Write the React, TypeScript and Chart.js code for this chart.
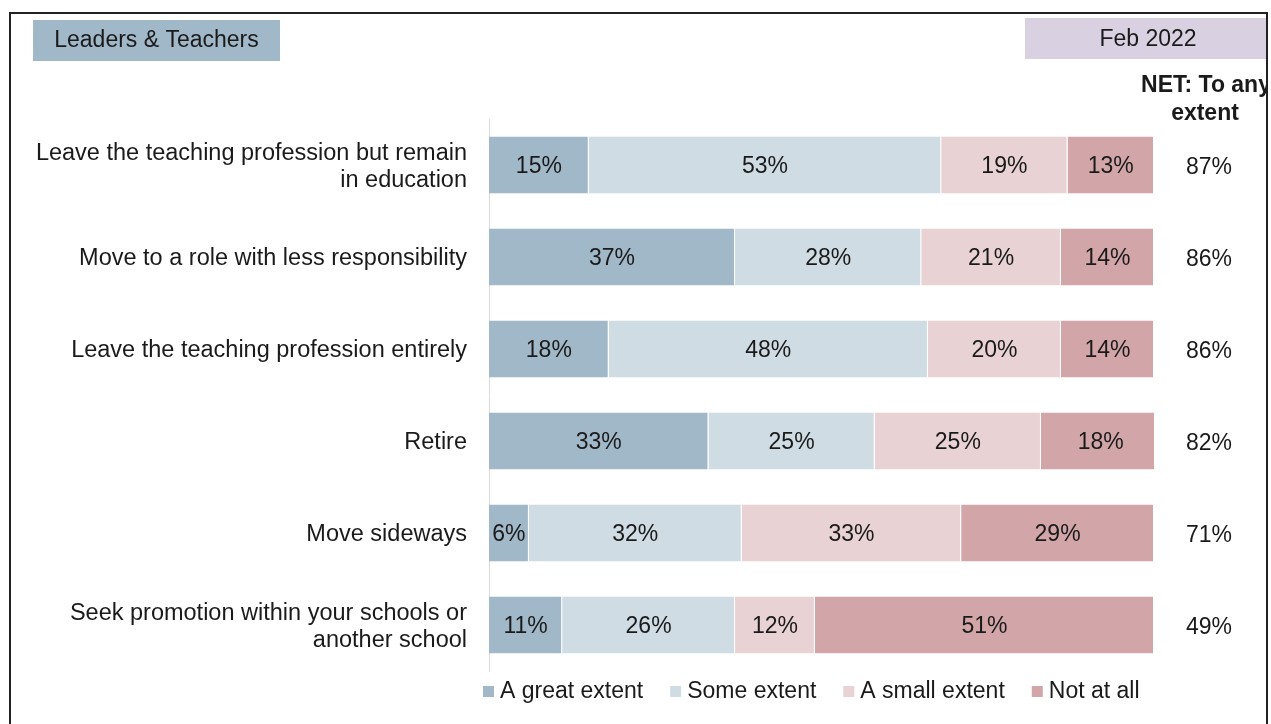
import React, { useEffect, useRef } from "react";
import { Chart, registerables } from "chart.js";

Chart.register(...registerables);

const categories: (string | string[])[] = [
  ["Leave the teaching profession but remain", "in education"],
  "Move to a role with less responsibility",
  "Leave the teaching profession entirely",
  "Retire",
  "Move sideways",
  ["Seek promotion within your schools or", "another school"],
];

const seriesNames = ["A great extent", "Some extent", "A small extent", "Not at all"];
const greatExtent = [15, 37, 18, 33, 6, 11];
const someExtent = [53, 28, 48, 25, 32, 26];
const smallExtent = [19, 21, 20, 25, 33, 12];
const notAtAll = [13, 14, 14, 18, 29, 51];
const netAnyExtent = [87, 86, 86, 82, 71, 49];

const seriesColors = ["#A1B8C8", "#CFDCE4", "#E8D2D4", "#D2A6A8"];

const headerLeft = "Leaders & Teachers";
const headerRight = "Feb 2022";
const netTitle = ["NET: To any", "extent"];

const FONT = "'Liberation Sans', Arial, sans-serif";
const TEXT = "#1a1a1a";

export default function App() {
  const ref = useRef<HTMLCanvasElement | null>(null);

  useEffect(() => {
    const canvas = ref.current;
    if (!canvas) return;

    const decor = {
      id: "decor",
      afterDatasetsDraw(chart: any) {
        const ctx = chart.ctx as CanvasRenderingContext2D;
        ctx.save();
        // segment labels
        ctx.font = `23px ${FONT}`;
        ctx.fillStyle = TEXT;
        ctx.textAlign = "center";
        ctx.textBaseline = "middle";
        chart.data.datasets.forEach((ds: any, di: number) => {
          const meta = chart.getDatasetMeta(di);
          meta.data.forEach((el: any, i: number) => {
            const v = ds.data[i] as number;
            const cx = (el.x + el.base) / 2;
            ctx.fillText(`${Math.round(v)}%`, cx, el.y + 1.5);
          });
        });
        // NET values
        const meta0 = chart.getDatasetMeta(0);
        const netX = chart.chartArea.right + 55;
        meta0.data.forEach((el: any, i: number) => {
          ctx.fillText(`${netAnyExtent[i]}%`, netX, el.y + 3);
        });
        ctx.restore();
      },
      afterDraw(chart: any) {
        const ctx = chart.ctx as CanvasRenderingContext2D;
        const W = chart.width;
        const frameR = W - 4;
        ctx.save();
        ctx.beginPath();
        ctx.rect(0, 0, frameR, chart.height);
        ctx.clip();
        // header boxes
        ctx.fillStyle = "#A1B8C8";
        ctx.fillRect(33, 20, 247, 41);
        ctx.fillStyle = "#D9D1E1";
        ctx.fillRect(1025, 18, frameR - 1025, 41);
        ctx.fillStyle = TEXT;
        ctx.font = `23px ${FONT}`;
        ctx.textAlign = "center";
        ctx.textBaseline = "middle";
        ctx.fillText(headerLeft, 156.5, 41);
        ctx.fillText(headerRight, 1148, 39.5);
        // NET title
        ctx.font = `bold 23px ${FONT}`;
        ctx.fillText(netTitle[0], 1206, 85.5);
        ctx.fillText(netTitle[1], 1205, 113.5);
        // legend
        ctx.font = `23px ${FONT}`;
        ctx.textAlign = "left";
        let x = 483;
        const ly = 692;
        seriesNames.forEach((name, i) => {
          ctx.fillStyle = seriesColors[i];
          ctx.fillRect(x, ly - 6, 11, 11);
          ctx.fillStyle = TEXT;
          ctx.fillText(name, x + 17, ly);
          x += 17 + ctx.measureText(name).width + 27;
        });
        ctx.restore();
        // frame
        ctx.save();
        ctx.strokeStyle = "#222";
        ctx.lineWidth = 2;
        ctx.beginPath();
        ctx.moveTo(10, 740);
        ctx.lineTo(10, 13);
        ctx.lineTo(frameR, 13);
        ctx.lineTo(frameR, 740);
        ctx.stroke();
        ctx.restore();
      },
    };

    const seriesData = [greatExtent, someExtent, smallExtent, notAtAll];

    const chart = new Chart(canvas, {
      type: "bar",
      data: {
        labels: categories,
        datasets: seriesNames.map((name, i) => ({
          label: name,
          data: seriesData[i],
          backgroundColor: seriesColors[i],
          borderColor: "#ffffff",
          borderWidth: { top: 0, bottom: 0, left: 0, right: 1 },
          borderSkipped: false,
          categoryPercentage: 1,
          barPercentage: 0.62,
        })),
      },
      options: {
        indexAxis: "y",
        animation: false,
        responsive: false,
        devicePixelRatio: 1,
        layout: { padding: { top: 119, bottom: 53, right: 117, left: 0 } },
        plugins: {
          legend: { display: false },
          tooltip: { enabled: false },
        },
        scales: {
          x: {
            stacked: true,
            min: 0,
            max: 100,
            display: false,
          },
          y: {
            stacked: true,
            grid: { display: false, drawTicks: false },
            border: { display: true, color: "#d9d9d9", width: 1 },
            ticks: {
              color: TEXT,
              font: { family: FONT, size: 23.5, lineHeight: 1.15 },
              padding: 22,
              labelOffset: 2,
            },
            afterFit: (scale: any) => {
              scale.width = 489;
            },
          },
        },
      },
      plugins: [decor],
    } as any);

    return () => chart.destroy();
  }, []);

  return (
    <div style={{ position: "fixed", left: 0, top: 0, width: 1271, height: 724, background: "#fff" }}>
      <canvas ref={ref} width={1271} height={724} style={{ display: "block" }} />
    </div>
  );
}
